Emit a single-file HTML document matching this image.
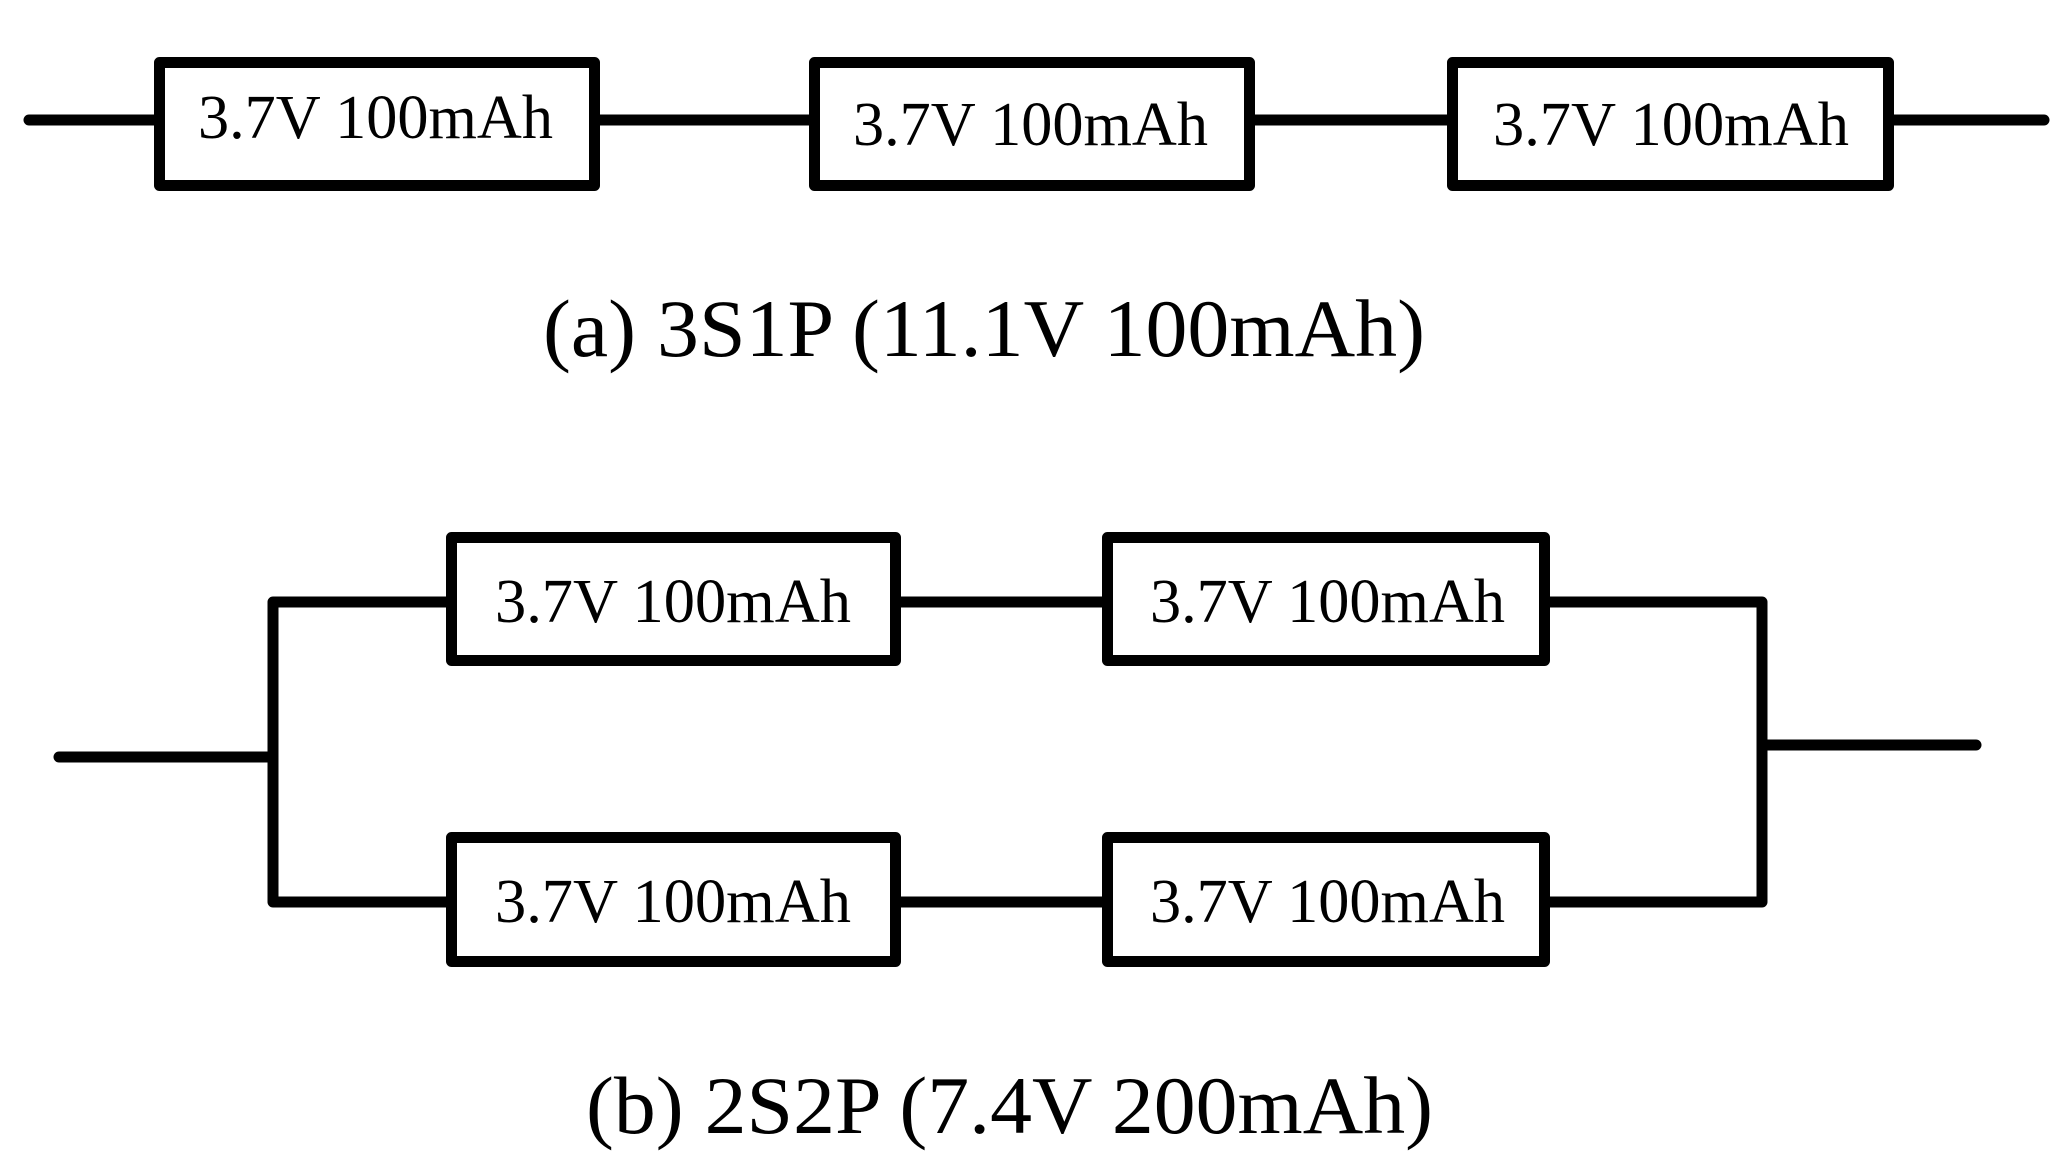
<!DOCTYPE html>
<html><head><meta charset="utf-8"><style>
html,body{margin:0;padding:0;background:#fff;}
svg{display:block;}
text{font-family:"Liberation Serif",serif;fill:#000;}
</style></head><body>
<svg width="2065" height="1161" viewBox="0 0 2065 1161" xmlns="http://www.w3.org/2000/svg">
<g stroke="#000" stroke-width="11" fill="none" stroke-linecap="round" stroke-linejoin="round">
<!-- top -->
<line x1="29" y1="120" x2="158" y2="120"/>
<rect x="159.5" y="62.5" width="435" height="123"/>
<line x1="596" y1="120" x2="813" y2="120"/>
<rect x="814.5" y="62.5" width="435" height="123"/>
<line x1="1251" y1="120" x2="1451" y2="120"/>
<rect x="1452.5" y="62.5" width="436" height="123"/>
<line x1="1890" y1="120" x2="2044" y2="120"/>
<!-- bottom -->
<line x1="59" y1="757" x2="273" y2="757"/>
<polyline points="450,602 273,602 273,902 450,902"/>
<rect x="451.5" y="537.5" width="444" height="123"/>
<rect x="1107.5" y="537.5" width="437" height="123"/>
<rect x="451.5" y="837.5" width="444" height="124"/>
<rect x="1107.5" y="837.5" width="437" height="124"/>
<line x1="897" y1="602" x2="1106" y2="602"/>
<line x1="897" y1="902" x2="1106" y2="902"/>
<polyline points="1546,602 1762,602 1762,902 1546,902"/>
<line x1="1762" y1="745" x2="1976" y2="745"/>
</g>
<g font-size="62">
<text x="198" y="138" textLength="355" lengthAdjust="spacingAndGlyphs">3.7V 100mAh</text>
<text x="853" y="145" textLength="355" lengthAdjust="spacingAndGlyphs">3.7V 100mAh</text>
<text x="1493" y="145" textLength="356" lengthAdjust="spacingAndGlyphs">3.7V 100mAh</text>
<text x="495" y="622" textLength="356" lengthAdjust="spacingAndGlyphs">3.7V 100mAh</text>
<text x="1150" y="622" textLength="355" lengthAdjust="spacingAndGlyphs">3.7V 100mAh</text>
<text x="495" y="922" textLength="356" lengthAdjust="spacingAndGlyphs">3.7V 100mAh</text>
<text x="1150" y="922" textLength="355" lengthAdjust="spacingAndGlyphs">3.7V 100mAh</text>
</g>
<g font-size="82">
<text x="543" y="356" textLength="882" lengthAdjust="spacingAndGlyphs">(a) 3S1P (11.1V 100mAh)</text>
<text x="586" y="1133" textLength="847" lengthAdjust="spacingAndGlyphs">(b) 2S2P (7.4V 200mAh)</text>
</g>
</svg>
</body></html>
